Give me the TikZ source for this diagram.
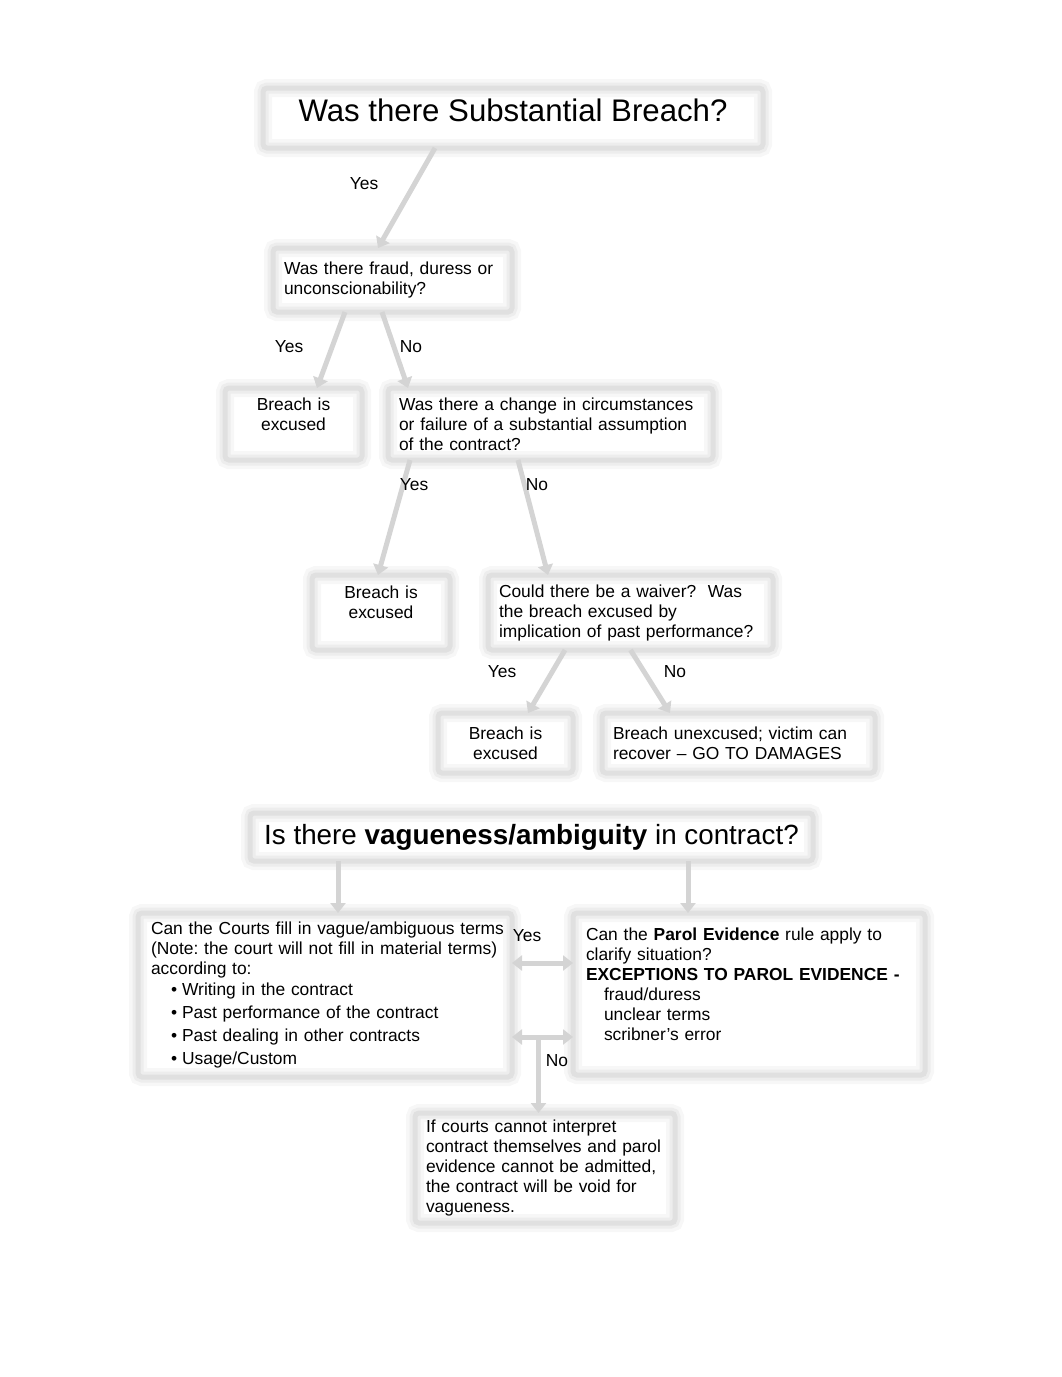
\documentclass[tikz,border=0pt]{standalone}
\usepackage{fontspec}
\setmainfont{Liberation Sans}
\usetikzlibrary{arrows.meta}
\frenchspacing
\newcommand{\bodyfont}{\fontsize{17.4}{20}\selectfont}
\newcommand{\headfont}{\fontsize{31.2}{36}\selectfont}
\newcommand{\vaguefont}{\fontsize{27.8}{32}\selectfont}
\tikzset{
  box/.style={draw=black!12, line width=5pt, rounded corners=4pt,
    preaction={draw=black!3, line width=18pt},
    preaction={draw=black!7, line width=11pt},
    inner xsep=11pt, inner ysep=0pt, outer sep=0pt, font=\bodyfont},
  ans/.style={inner sep=0pt, font=\bodyfont},
  link/.style={draw=black!17, line width=5pt, -{Triangle[length=10pt,width=15pt]}},
  twoway/.style={link, {Triangle[length=10pt,width=15pt]}-{Triangle[length=10pt,width=15pt]}},
}

\begin{document}
\begin{tikzpicture}[x=1pt,y=-1pt]
    \useasboundingbox (0,0) rectangle (1062,1377);
    \node[box, minimum width=500pt, minimum height=60pt, font=\headfont, text depth=16pt] (breach) at (513,118) {Was there Substantial Breach?};
    \node[box, minimum width=239pt, minimum height=64pt, text width=217pt, align=left] (fraud) at (392.5,280) {Was there fraud, duress or\\unconscionability?};
    \node[box, minimum width=137pt, minimum height=72pt, text width=115pt, align=center] (excuseA) at (293.5,424) {Breach is\\excused\\ \mbox{}};
    \node[box, minimum width=325pt, minimum height=72pt, text width=303pt, align=left] (change) at (550.5,424) {Was there a change in circumstances\\or failure of a substantial assumption\\of the contract?};
    \node[box, minimum width=138pt, minimum height=75pt, text width=116pt, align=center] (excuseB) at (381,612.5) {Breach is\\excused\\ \mbox{}};
    \node[box, minimum width=285pt, minimum height=75pt, text width=263pt, align=left] (waiver) at (630.5,612.5) {Could there be a waiver?\ \ Was\\the breach excused by\\implication of past performance?};
    \node[box, minimum width=135pt, minimum height=60pt, text width=113pt, align=center] (excuseC) at (505.5,743) {Breach is\\excused};
    \node[box, minimum width=273pt, minimum height=60pt, text width=251pt, align=left] (unexcused) at (738.5,743) {Breach unexcused; victim can\\recover -- GO TO DAMAGES};
    \node[box, minimum width=563pt, minimum height=48pt, font=\vaguefont] (vague) at (531.5,837) {Is there \textbf{vagueness/ambiguity} in contract?};
    \node[box, minimum width=374pt, minimum height=164pt, text width=362pt, inner xsep=6pt, align=left] (courts) at (325,995) {\hspace*{7pt}Can the Courts fill in vague/ambiguous terms\\\hspace*{7pt}(Note: the court will not fill in material terms)\\\hspace*{7pt}according to:\\[1pt]
      \hspace*{27pt}\textbullet\hspace*{5pt}Writing in the contract\\[2.7pt]
      \hspace*{27pt}\textbullet\hspace*{5pt}Past performance of the contract\\[2.7pt]
      \hspace*{27pt}\textbullet\hspace*{5pt}Past dealing in other contracts\\[2.7pt]
      \hspace*{27pt}\textbullet\hspace*{5pt}Usage/Custom};
    \node[box, minimum width=352pt, minimum height=162pt, text width=326pt, inner xsep=13pt, align=left] (parol) at (749,994) {Can the \textbf{Parol Evidence} rule apply to\\clarify situation?\\\textbf{EXCEPTIONS TO PAROL EVIDENCE -}\\
      \hspace*{18pt}fraud/duress\\
      \hspace*{18pt}unclear terms\\
      \hspace*{18pt}scribner’s error\\ \mbox{}};
    \node[box, minimum width=260pt, minimum height=110pt, text width=238pt, align=left] (void) at (545,1168) {If courts cannot interpret\\contract themselves and parol\\evidence cannot be admitted,\\the contract will be void for\\vagueness.};
    \draw[link] ([xshift=-78pt]breach.south) -- ([xshift=-14.5pt]fraud.north);
    \draw[link] ([xshift=-47.5pt]fraud.south) -- ([xshift=23.5pt]excuseA.north);
    \draw[link] ([xshift=-10.5pt]fraud.south) -- ([xshift=-142.5pt]change.north);
    \draw[link] ([xshift=-140.5pt]change.south) -- ([xshift=-3pt]excuseB.north);
    \draw[link] ([xshift=-32.5pt]change.south) -- ([xshift=-82.5pt]waiver.north);
    \draw[link] ([xshift=-65.5pt]waiver.south) -- ([xshift=22.5pt]excuseC.north);
    \draw[link] (waiver.south) -- ([xshift=-68.5pt]unexcused.north);
    \draw[link] ([xshift=-193.5pt]vague.south) -- ([xshift=13pt]courts.north);
    \draw[link] ([xshift=156.5pt]vague.south) -- ([xshift=-61pt]parol.north);
    \draw[twoway] ([yshift=32pt]courts.east) -- ([yshift=31pt]parol.west);
    \draw[twoway] ([yshift=-42pt]courts.east) -- coordinate (nomid) ([yshift=-43pt]parol.west);
    \draw[link] ([xshift=-4pt]nomid) -- ([xshift=-4pt]nomid |- void.north);
    \node[ans] (yesA) at (364,184) {Yes};
    \node[ans] (yesB) at (289,347) {Yes};
    \node[ans] (noB) at (411,347) {No};
    \node[ans] (yesC) at (414,485) {Yes};
    \node[ans] (noC) at (537,485) {No};
    \node[ans] (yesD) at (502,672) {Yes};
    \node[ans] (noD) at (675,672) {No};
    \node[ans] (yesE) at (527,936) {Yes};
    \node[ans] (noE) at (557,1061) {No};
\end{tikzpicture}
\end{document}
